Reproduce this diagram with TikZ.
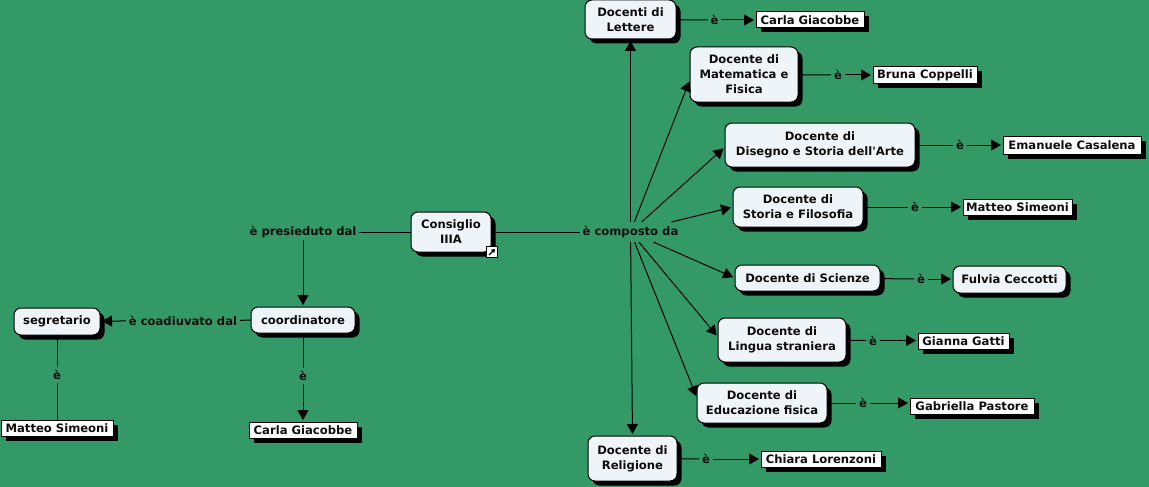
\documentclass[tikz,border=0pt]{standalone}
\usepackage{fontspec}
\setmainfont[Ligatures=TeXOff]{DejaVu Sans}
\usetikzlibrary{arrows.meta,shadows}
\definecolor{bgc}{HTML}{339966}
\definecolor{boxc}{HTML}{EEF4F7}
\newcommand{\mybox}[7]{\node[#1,minimum width=#5pt-#3pt,minimum height=#6pt-#4pt] (#2) at ({(#3+#5)/2},{(#4+#6)/2}) {#7};}
\tikzset{
  base/.style={font=\fontsize{11.6}{15}\selectfont\bfseries,align=center,text=black!95,inner sep=0pt,outer sep=0pt},
  concept/.style={base,draw=black,line width=1pt,fill=boxc,rounded corners=7pt,drop shadow={shadow xshift=4.5pt,shadow yshift=-4.5pt,fill=black,opacity=1}},
  person/.style={base,draw=black,line width=1pt,fill=white,drop shadow={shadow xshift=4.5pt,shadow yshift=-4.5pt,fill=black,opacity=1}},
  link/.style={base,inner xsep=3pt,minimum height=16pt},
  wide/.style={base,inner xsep=3pt,minimum height=20pt},
  conn/.style={draw=black,line width=1pt},
  arr/.style={conn,shorten >=2pt,-{Triangle[length=10pt,width=11pt]}}
}
\begin{document}
\begin{tikzpicture}[x=1pt,y=-1pt]
\useasboundingbox (0,0) rectangle (1149,487);
\fill[bgc] (0,0) rectangle (1149,487);
% concepts
\mybox{concept}{cons}{411}{212}{491}{252}{Consiglio\\IIIA}
\mybox{concept}{lett}{585}{0}{676}{39}{Docenti di\\Lettere}
\mybox{concept}{mate}{690}{47}{798}{102}{Docente di\\Matematica e\\Fisica}
\mybox{concept}{dise}{725}{123}{915}{167}{Docente di\\Disegno e Storia dell'Arte}
\mybox{concept}{stor}{733}{187}{863}{227}{Docente di\\Storia e Filosofia}
\mybox{concept}{scie}{735}{265}{880}{291}{Docente di Scienze}
\mybox{concept}{ling}{718}{318}{846}{362}{Docente di\\Lingua straniera}
\mybox{concept}{educ}{697}{383}{827}{423}{Docente di\\Educazione fisica}
\mybox{concept}{reli}{588}{436}{677}{481}{Docente di\\Religione}
\mybox{concept}{coor}{251}{307}{355}{333}{coordinatore}
\mybox{concept}{segr}{14}{308}{100}{335}{segretario}
\mybox{concept}{fulv}{953}{266}{1066}{293}{Fulvia Ceccotti}
% people
\mybox{person}{carl}{756}{12}{864}{28}{Carla Giacobbe}
\mybox{person}{brun}{873}{67}{977}{84}{Bruna Coppelli}
\mybox{person}{eman}{1003}{136}{1141}{154}{Emanuele Casalena}
\mybox{person}{matt}{963}{199}{1072}{215}{Matteo Simeoni}
\mybox{person}{gian}{918}{333}{1009}{349}{Gianna Gatti}
\mybox{person}{gabr}{910}{398}{1034}{414}{Gabriella Pastore}
\mybox{person}{chia}{761}{451}{881}{467}{Chiara Lorenzoni}
\mybox{person}{mats}{1}{420}{113}{436}{Matteo Simeoni}
\mybox{person}{carb}{249}{422}{357}{438}{Carla Giacobbe}
% link labels
\node[wide] (comp) at (630.5,232) {è composto da};
\node[link] (pres) at (303,232) {è presieduto dal};
\node[link] (coad) at (183,320.5) {è coadiuvato dal};
\node[link] (e1) at (714.5,20) {è};
\node[link] (e2) at (838,75) {è};
\node[link] (e3) at (960,145) {è};
\node[link] (e4) at (915,207) {è};
\node[link] (e5) at (921,279) {è};
\node[link] (e6) at (873,340.5) {è};
\node[link] (e7) at (863,403) {è};
\node[link] (e8) at (706,459) {è};
\node[link] (e9) at (303,376) {è};
\node[link] (e10) at (57,375) {è};
% connectors
\draw[conn] (cons) -- (comp);
\draw[conn] (cons) -- (pres);
\draw[arr] (pres) -- (coor);
\draw[conn] (coor) -- (coad);
\draw[arr] (coad) -- (segr);
\draw[conn] (coor) -- (e9);
\draw[arr] (e9) -- (carb);
\draw[conn] (segr) -- (e10);
\draw[conn] (e10) -- (mats);
\draw[arr] (comp) -- (lett.south);
\draw[arr] (comp) -- ([yshift=-5pt]mate.west);
\draw[arr] (comp) -- ([yshift=-2pt]dise.west);
\draw[arr] (comp) -- (stor.west);
\draw[arr] (comp) -- (scie.west);
\draw[arr] (comp) -- ([yshift=3pt]ling.west);
\draw[arr] (comp) -- ([yshift=5pt]educ.west);
\draw[arr] (comp) -- (reli.north);
\foreach \a/\e/\b in {lett/e1/carl,mate/e2/brun,dise/e3/eman,stor/e4/matt,scie/e5/fulv,ling/e6/gian,educ/e7/gabr,reli/e8/chia}{
  \draw[conn] (\a) -- (\e);
  \draw[arr] (\e) -- (\e -| \b.west);
}
% link icon
\node[draw=black,line width=1pt,fill=white,minimum size=11pt,inner sep=0pt] (icon) at (492,252) {};
\coordinate (ia) at (489,255);
\coordinate (ib) at (495,249);
\draw[black,line width=1.4pt,-{Triangle[length=3.5pt,width=4.5pt]}] (ia) -- (ib);
\end{tikzpicture}
\end{document}
